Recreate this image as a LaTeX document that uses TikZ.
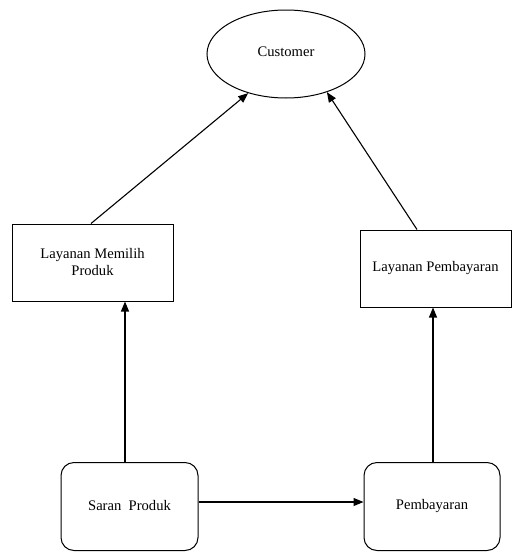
\documentclass[tikz,border=0pt]{standalone}
\usepackage{fontspec}
\setmainfont{Liberation Serif}
\usetikzlibrary{shapes.geometric,arrows.meta,calc}
\begin{document}
\begin{tikzpicture}[x=1pt,y=-1pt,
  every node/.style={font=\fontsize{14.6}{17}\selectfont, inner sep=0pt, align=center},
  linebox/.style={draw, line width=1pt},
  roundbox/.style={draw, line width=1pt, rounded corners=13pt},
  conn/.style={line width=1.1pt, -{Triangle[length=10pt,width=8pt]}}]
\useasboundingbox (0,0) rectangle (512,552);
\fill[white] (0,0) rectangle (512,552);
\node[draw, ellipse, line width=1pt, minimum width=158pt, minimum height=88pt] (cust) at (286,54) {\raisebox{5pt}{Customer}};
\node[linebox, minimum width=161pt, minimum height=77pt] (lb) at (92.5,262.5) {Layanan Memilih\\Produk};
\node[linebox, minimum width=151pt, minimum height=77pt] (rb) at (435.5,268.5) {\raisebox{2pt}{Layanan Pembayaran}};
\node[roundbox, minimum width=137pt, minimum height=88pt] (saran) at (129.5,506.5) {\raisebox{3pt}{Saran\ \ Produk}};
\node[roundbox, minimum width=136pt, minimum height=88pt] (bayar) at (432,506.5) {\raisebox{3pt}{Pembayaran}};
\draw[conn] ($(saran.north)+(-4.5,0)$) -- ($(lb.south)+(32.5,0)$);
\draw[conn] ($(bayar.north)+(1,0)$) -- ($(rb.south)+(-2.5,0)$);
\draw[conn] ($(saran.east)+(0,-4.5)$) -- ($(bayar.west)+(0,-4.5)$);
\draw[conn] ($(lb.north)+(-1.5,0)$) -- (cust.226);
\draw[conn] ($(rb.north)+(-18.5,0)$) -- (cust.317);
\end{tikzpicture}
\end{document}
